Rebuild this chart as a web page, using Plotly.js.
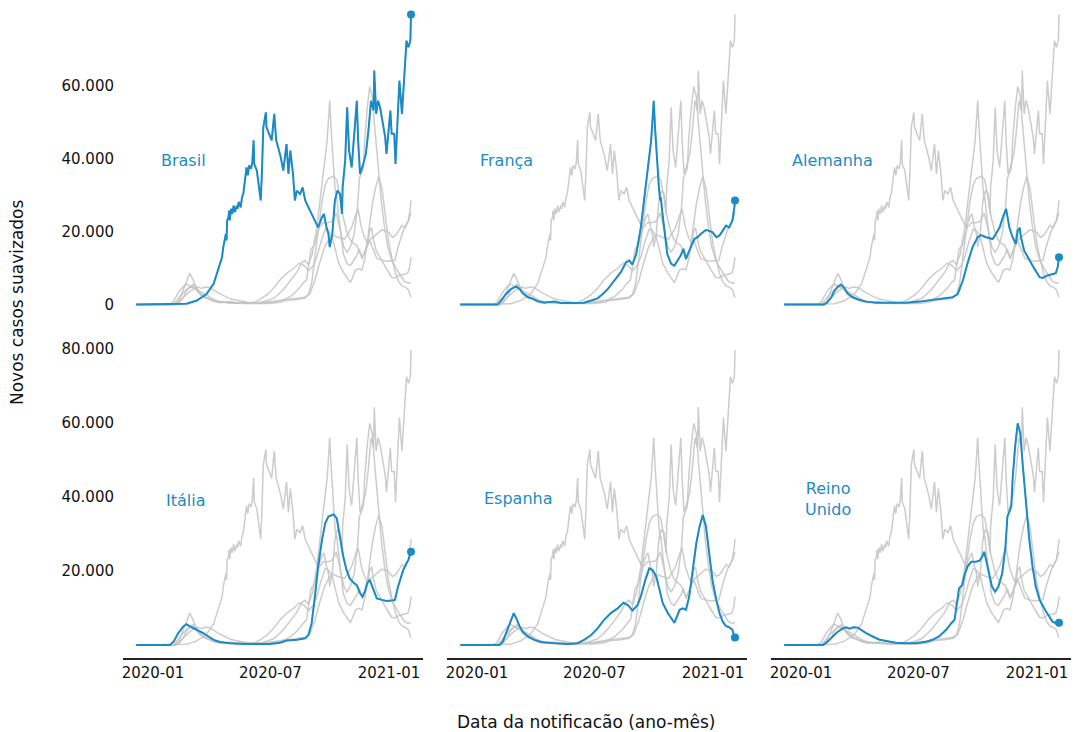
<!DOCTYPE html>
<html><head><meta charset="utf-8">
<script src="https://cdn.plot.ly/plotly-3.0.1.min.js"></script>
<style>html,body{margin:0;padding:0;background:#fff}#chart{width:1077px;height:732px}</style>
</head><body><div id="chart"></div>
<script>
// Países (ordem dos painéis)
const paises = ["Brasil", "França", "Alemanha", "Itália", "Espanha", "Reino Unido"];
const rotulos = ["Brasil", "França", "Alemanha", "Itália", "Espanha", "Reino<br>Unido"];

// Dias desde 2020-01-01 e novos casos suavizados (milhares)
const brasilDias = [-26,52,68,83,94,101,107,109,113,114,115,117,118,119,121,123,125,127,130,131,133,136,138,140,142,144,145,147,149,152,154,156,157,161,165,167,169,171,175,176,180,184,188,191,194,198,202,207,210,213,217,220,223,228,232,236,241,246,251,256,262,265,269,272,274,278,282,286,290,293,294,298,301,304,308,313,316,318,321,326,330,334,338,342,343,346,349,352,357,360,362,365,368,370,374,376,378,382,386,388,391,393,396,399,400];
const brasilMil = [0,0.2,1.1,2.9,5.7,9.3,13.0,15.8,19.4,17.6,23.1,24.0,25.8,23.1,26.3,24.9,27.2,25.4,27.2,26.3,28.2,26.7,29.5,30.4,33.6,35.0,37.7,35.5,38.2,37.3,39.1,45.1,38.6,36.8,32.2,28.6,36.8,48.7,52.8,48.7,46.9,45.1,52.4,45.1,43.2,40.5,36.8,44.1,35.9,42.3,35.9,28.6,31.3,30.4,32.2,28.6,26.7,24.9,23.1,21.2,24.0,24.9,21.2,19.4,15.8,19.4,28.6,31.3,30.4,24.9,32.2,39.6,54.2,42.3,37.7,48.7,56.0,45.1,35.9,38.6,41.4,47.8,56.0,53.3,64.3,52.4,56.0,54.2,49.6,46.0,41.4,48.7,53.3,46.9,46.9,38.6,47.8,61.5,52.4,57.9,65.2,72.5,70.7,72.5,79.7];

const francaDias = [-26,32,37,45,53,61,66,71,79,86,94,104,120,130,151,166,177,187,195,203,213,223,231,236,241,247,254,259,265,267,270,272,274,276,279,282,284,285,287,291,295,301,306,311,316,320,324,327,332,337,342,347,355,360,365,371,376,381,386,391,396,399,400];
const francaMil = [0,0,1.1,2.9,4.3,4.9,4.3,3.1,2.0,1.6,0.9,0.5,0.8,0.4,0.4,0.5,1.1,1.7,2.9,4.3,6.6,8.9,11.6,12.1,11.0,13.9,21.2,28.6,38.6,41.4,45.1,50.5,56.0,48.7,39.6,32.2,28.6,29.5,25.8,19.4,13.9,11.2,10.7,12.1,13.5,15.3,12.5,13.9,15.8,18.0,18.5,19.4,20.5,20.3,19.9,18.5,19.0,20.3,21.7,21.2,23.1,26.7,28.6];

const alemanhaDias = [-26,36,41,47,52,57,62,67,72,80,90,101,116,142,163,183,204,225,235,243,251,258,266,274,279,287,297,302,308,313,318,323,328,333,336,339,341,346,354,362,370,375,382,390,395,398,400];
const alemanhaMil = [0,0,0.6,2.0,3.8,4.9,5.5,4.6,3.1,2.0,1.3,0.8,0.5,0.5,0.5,0.8,1.3,1.6,2.0,2.9,6.6,11.2,15.8,18.5,19.1,18.5,18.0,19.4,21.2,24.0,26.3,21.2,18.5,16.7,20.3,21.1,18.5,14.8,12.1,9.8,7.5,7.3,8.0,8.4,8.6,10.3,13.0];

const italiaDias = [-26,26,32,39,47,52,60,68,78,86,94,104,119,145,181,197,207,223,236,241,246,251,256,262,267,272,280,285,290,295,300,305,311,316,321,325,329,332,336,341,347,355,362,370,375,380,388,393,396,400];
const italiaMil = [0,0,0.9,3.2,5.0,5.6,4.8,4.1,3.2,2.3,1.4,0.8,0.5,0.3,0.3,0.6,1.2,1.4,1.8,2.7,5.9,13.1,21.2,28.4,32.9,34.7,35.3,34.2,29.3,23.9,20.3,18.0,16.8,16.2,14.0,13.1,14.7,16.7,17.6,15.3,12.6,12.2,11.9,12.0,12.2,15.8,20.3,22.1,23.0,25.2];

const espanhaDias = [-26,35,40,45,50,54,57,61,66,71,79,89,99,120,141,156,166,177,187,197,208,218,227,234,241,249,254,261,267,272,278,283,288,296,301,306,310,314,319,324,329,334,340,345,350,355,360,365,371,376,381,386,391,396,399,400];
const espanhaMil = [0,0,0.9,3.2,5.9,7.7,8.6,7.2,5.1,3.6,2.3,1.4,0.8,0.5,0.3,0.5,1.4,2.7,4.5,6.8,8.7,9.9,11.4,10.8,9.3,10.8,13.1,17.6,20.7,20.3,18.5,14.9,11.3,8.6,7.2,6.0,7.7,9.5,9.9,9.5,13.1,19.4,27.5,32.0,35.1,32.0,23.9,17.6,12.2,8.6,6.3,5.1,4.8,4.1,2.3,2.0];

const reinoUnidoDias = [-26,34,41,49,57,65,70,75,81,88,93,101,111,121,132,147,163,178,194,204,214,225,233,238,241,245,250,253,258,264,271,277,281,284,287,291,296,301,306,312,317,320,326,328,332,336,340,344,349,354,359,364,370,375,380,385,390,395,400];
const reinoUnidoMil = [0,0,0.9,2.3,3.6,4.5,4.8,4.4,4.8,4.7,4.1,3.2,2.3,1.5,1.1,0.6,0.5,0.5,0.9,1.4,2.3,4.1,5.9,6.8,10.4,15.3,16.2,18.5,21.2,22.5,22.5,22.8,23.9,25.2,23.0,19.4,15.8,14.4,15.8,19.4,26.6,34.7,37.4,44.6,53.6,59.9,57.2,48.2,37.4,28.4,21.2,15.8,12.2,10.4,9.0,7.7,6.3,5.9,6.0];

// Eixos
const tickDatas = ["2020-01-01", "2020-07-01", "2021-01-01"];
const tickRotulos = ["2020-01", "2020-07", "2021-01"];
const yTicksLinha1 = [0, 20000, 40000, 60000];
const yTicksLinha2 = [20000, 40000, 60000, 80000];

const dias = [brasilDias, francaDias, alemanhaDias, italiaDias, espanhaDias, reinoUnidoDias];
const mil = [brasilMil, francaMil, alemanhaMil, italiaMil, espanhaMil, reinoUnidoMil];

const BASE = Date.UTC(2020, 0, 1);
function diaParaData(d) { return new Date(BASE + d * 86400000).toISOString().slice(0, 10); }
function diaParaDataHora(d) { return new Date(BASE + d * 86400000).toISOString().replace('T', ' ').slice(0, 19); }

const series = paises.map((p, i) => ({
  x: dias[i].map(diaParaData),
  y: mil[i].map(v => Math.round(v * 1000))
}));

const AZUL = '#1a8bc6';
const CINZA = 'rgba(195,195,195,0.85)';
const FONTE = 'DejaVu Sans';

const W = 1077, H = 732;
const colPx = [[123, 423], [447, 747], [771, 1071]];
const rowPx = [[5, 318], [345, 658]];
const yRanges = [[-3700, 82300], [-3510, 81080]];
const xRange = [diaParaDataHora(-46.5), diaParaDataHora(418.6)];

const traces = [];
const layout = {
  width: W, height: H,
  margin: {l: 0, r: 0, t: 0, b: 0},
  paper_bgcolor: '#fff', plot_bgcolor: '#fff',
  showlegend: false,
  separators: ',.',
  font: {family: FONTE, size: 15, color: '#111'},
  annotations: []
};

const rotuloPos = [[183, 160], [506, 160], [832, 160], [186, 500], [518, 498], [828, 499]];

for (let k = 0; k < 6; k++) {
  const row = k < 3 ? 0 : 1;
  const col = k % 3;
  const sfx = k === 0 ? '' : String(k + 1);
  const xa = 'x' + sfx, ya = 'y' + sfx;
  for (let j = 0; j < 6; j++) {
    traces.push({
      type: 'scatter', mode: 'lines', x: series[j].x, y: series[j].y,
      xaxis: xa, yaxis: ya, line: {color: CINZA, width: 1.5}, hoverinfo: 'skip'
    });
  }
  traces.push({
    type: 'scatter', mode: 'lines', x: series[k].x, y: series[k].y,
    xaxis: xa, yaxis: ya, line: {color: AZUL, width: 2}, name: paises[k]
  });
  const n = series[k].x.length;
  traces.push({
    type: 'scatter', mode: 'markers', x: [series[k].x[n - 1]], y: [series[k].y[n - 1]],
    xaxis: xa, yaxis: ya, marker: {color: AZUL, size: 8}, name: paises[k]
  });

  layout['xaxis' + sfx] = {
    domain: [colPx[col][0] / W, colPx[col][1] / W],
    anchor: ya, type: 'date', range: xRange,
    showgrid: false, zeroline: false,
    showline: row === 1, linecolor: '#222', linewidth: 1.5,
    ticks: '', showticklabels: row === 1,
    tickmode: 'array', tickvals: tickDatas, ticktext: tickRotulos,
    tickfont: {family: FONTE, size: 15, color: '#111'}
  };
  layout['yaxis' + sfx] = {
    domain: [1 - rowPx[row][1] / H, 1 - rowPx[row][0] / H],
    anchor: xa, range: yRanges[row],
    showgrid: false, zeroline: false, showline: false, ticks: '',
    showticklabels: col === 0,
    tickmode: 'array', tickvals: row === 0 ? yTicksLinha1 : yTicksLinha2,
    tickformat: ',d', ticklabelstandoff: 8,
    tickfont: {family: FONTE, size: 15, color: '#111'}
  };

  layout.annotations.push({
    xref: 'paper', yref: 'paper',
    x: rotuloPos[k][0] / W, y: 1 - rotuloPos[k][1] / H,
    xanchor: 'center', yanchor: 'middle', showarrow: false,
    text: rotulos[k], font: {family: FONTE, size: 16, color: AZUL}
  });
}

layout.annotations.push({
  xref: 'paper', yref: 'paper', x: 17 / W, y: 1 - 303 / H,
  xanchor: 'center', yanchor: 'middle', showarrow: false, textangle: -90,
  text: 'Novos casos suavizados', font: {family: FONTE, size: 17, color: '#111'}
});
layout.annotations.push({
  xref: 'paper', yref: 'paper', x: 586 / W, y: 1 - 722 / H,
  xanchor: 'center', yanchor: 'middle', showarrow: false,
  text: 'Data da notificacão (ano-mês)', font: {family: FONTE, size: 17, color: '#111'}
});

Plotly.newPlot('chart', traces, layout, {displayModeBar: false, staticPlot: true});
</script>
</body></html>
